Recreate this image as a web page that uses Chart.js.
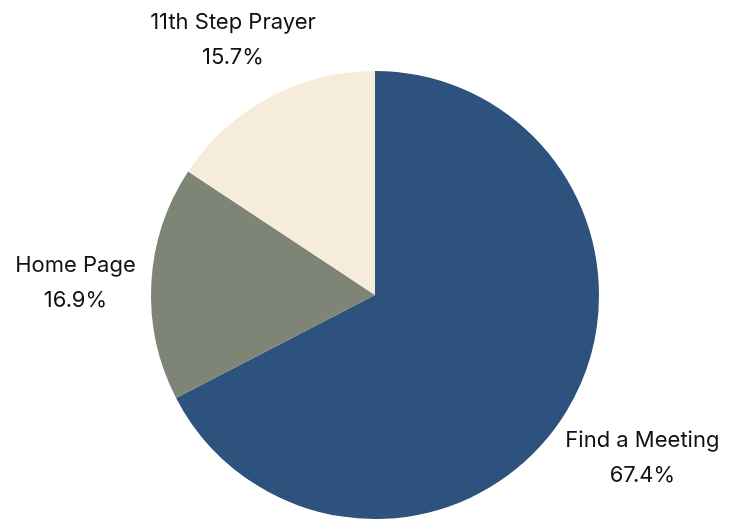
<!DOCTYPE html>
<html>
<head>
<meta charset="utf-8">
<script src="https://cdn.jsdelivr.net/npm/chart.js@4"></script>
<style>
  html, body { margin: 0; padding: 0; background: #ffffff; }
  #wrap { width: 745px; height: 519px; position: relative; }
</style>
</head>
<body>
<div id="wrap"><canvas id="pie"></canvas></div>
<script>
const labels = ["Find a Meeting", "Home Page", "11th Step Prayer"];
const values = [67.4, 16.9, 15.7];
const colors = ["#2d527d", "#7e8576", "#f5ecdb"];

// draws "name / pct" outside each slice, along the slice's mid angle
const outsideLabels = {
  id: "outsideLabels",
  afterDatasetsDraw(chart) {
    const ctx = chart.ctx;
    const meta = chart.getDatasetMeta(0);
    ctx.save();
    ctx.font = "22px Inter";
    ctx.fillStyle = "#111111";
    ctx.textAlign = "center";
    ctx.textBaseline = "middle";
    meta.data.forEach((arc, i) => {
      const mid = (arc.startAngle + arc.endAngle) / 2;
      const dx = Math.cos(mid);
      const dy = Math.sin(mid);
      const r = arc.outerRadius + 70 + Math.max(0, dy) * 25;
      const x = arc.x + dx * r + dx * 6;
      const y = arc.y + dy * r + 3;
      ctx.fillText(labels[i], x, y - 17);
      ctx.fillText(values[i].toFixed(1) + "%", x, y + 18);
    });
    ctx.restore();
  },
};

new Chart(document.getElementById("pie"), {
  type: "pie",
  data: {
    labels: labels,
    datasets: [
      {
        data: values,
        backgroundColor: colors,
        borderWidth: 0,
      },
    ],
  },
  options: {
    responsive: true,
    maintainAspectRatio: false,
    animation: false,
    layout: { padding: { top: 71, bottom: 0, left: 5, right: 0 } },
    plugins: {
      legend: { display: false },
      tooltip: { enabled: false },
    },
  },
  plugins: [outsideLabels],
});
</script>
</body>
</html>
